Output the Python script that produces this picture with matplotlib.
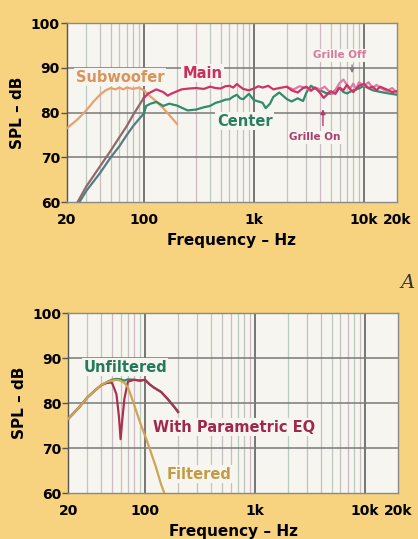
import numpy as np
import matplotlib
matplotlib.use('Agg')
import matplotlib.pyplot as plt
from matplotlib.ticker import FixedLocator, NullFormatter

# Datos de la gráfica superior (respuesta de los altavoces)
freq_sub = [20, 25, 30, 35, 40, 45, 50, 55, 60, 65, 70, 80, 90, 100, 110, 130, 150, 170, 200]
spl_sub = [76.5, 78.5, 80.5, 82.5, 84.0, 85.0, 85.5, 85.2, 85.6, 85.2, 85.6, 85.3, 85.6, 85.0,
           84.0, 82.5, 81.0, 79.5, 77.5]

freq_main = [25, 30, 40, 50, 60, 70, 80, 90, 100, 110, 130, 150, 165, 180, 220, 260, 300, 350,
             400, 450, 500, 550, 600, 650, 700, 750, 800, 900, 1000, 1100, 1200, 1350, 1500,
             1700, 2000, 2200, 2500, 2800, 3000, 3300, 3600, 4000, 4300, 4600, 5000, 5500,
             6000, 6500, 7000, 7500, 8000, 9000, 10000, 11000, 12000, 13000, 14000, 16000,
             18000, 20000]
spl_main = [60.0, 63.5, 68.0, 71.5, 74.5, 77.0, 79.5, 81.5, 83.3, 84.3, 85.2, 84.6, 83.8, 84.3,
            85.2, 85.4, 85.5, 85.3, 85.8, 85.5, 85.4, 85.9, 86.0, 85.6, 86.4, 85.8, 85.3, 85.0,
            85.4, 85.9, 85.6, 86.0, 85.2, 85.5, 85.8, 85.0, 84.5, 85.5, 85.8, 85.0, 85.6, 84.4,
            83.3, 84.0, 84.8, 84.2, 85.6, 85.0, 86.2, 85.2, 84.6, 86.0, 86.4, 85.5, 85.8, 85.0,
            85.8, 85.2, 84.6, 84.8]

freq_off = [2000, 2300, 2600, 3000, 3300, 3600, 4000, 4400, 4800, 5200, 5600, 6000, 6500,
            7000, 7500, 8000, 8500, 9000, 10000, 11000, 12000, 13000, 14000, 16000, 18000, 20000]
spl_off = [85.7, 85.2, 85.9, 85.5, 84.8, 85.6, 85.2, 85.8, 84.8, 84.2, 85.4, 86.6, 87.4,
           86.2, 85.4, 86.5, 85.2, 86.8, 86.0, 86.8, 85.5, 86.2, 85.6, 84.8, 85.5, 84.5]

freq_center = [26, 30, 40, 50, 60, 70, 80, 90, 100, 105, 115, 130, 150, 170, 200, 250, 300,
               350, 400, 450, 500, 550, 600, 650, 700, 750, 800, 900, 1000, 1100, 1200, 1280,
               1400, 1500, 1700, 2000, 2200, 2500, 2800, 3000, 3300, 3600, 4000, 4500, 5000,
               5500, 6000, 6500, 7000, 8000, 9000, 10000, 12000, 15000, 20000]
spl_center = [60.0, 62.5, 66.5, 70.0, 72.5, 75.0, 77.0, 78.5, 79.8, 81.5, 82.0, 82.4, 81.5,
              82.0, 81.6, 80.5, 80.7, 81.2, 81.5, 82.2, 82.5, 82.9, 83.0, 83.6, 84.0, 83.2,
              83.0, 84.2, 82.8, 82.5, 82.2, 81.0, 82.0, 83.5, 84.5, 83.0, 82.5, 83.2, 82.6,
              84.5, 86.0, 85.4, 85.0, 84.4, 84.2, 85.0, 85.5, 84.6, 84.3, 85.0, 85.4, 86.0,
              85.0, 84.5, 84.0]

# Datos de la gráfica inferior (subwoofer con filtros)
freq_unf = [20, 25, 30, 35, 40, 45, 50, 55, 60, 65, 70, 80, 90, 100, 110, 120, 140, 160, 180, 200]
spl_unf = [76.5, 79.0, 81.3, 82.8, 84.0, 84.7, 85.2, 85.4, 85.3, 85.0, 85.3, 85.2, 85.0, 85.2,
           84.2, 83.5, 82.5, 81.0, 79.5, 78.2]

freq_eq = [20, 25, 30, 35, 40, 45, 50, 55, 58, 60, 62, 65, 70, 80, 90, 100, 110, 120, 140,
           160, 180, 200]
spl_eq = [76.5, 79.0, 81.3, 82.8, 84.0, 84.5, 84.6, 82.0, 77.0, 72.0, 76.0, 81.0, 84.8, 85.2,
          85.0, 85.2, 84.2, 83.5, 82.5, 81.0, 79.5, 78.0]

freq_filt = [20, 25, 30, 35, 40, 45, 50, 55, 60, 65, 70, 75, 80, 90, 100, 110, 125, 140, 150]
spl_filt = [76.5, 79.0, 81.3, 82.8, 84.0, 84.7, 85.0, 85.2, 85.0, 84.5, 83.5, 81.5, 79.5,
            75.8, 72.8, 70.0, 66.0, 62.0, 60.0]

x_ticks = [20, 100, 1000, 10000, 20000]
x_labels = ['20', '100', '1k', '10k', '20k']
y_ticks = [60, 70, 80, 90, 100]

BG = '#F7D27F'
FACE = '#F7F5EF'


# Función para dar formato a cada eje (rejilla, ticks, etiquetas)
def style_axis(ax):
    ax.set_facecolor(FACE)
    ax.set_xscale('log')
    ax.set_xlim(20, 20000)
    ax.set_ylim(60, 100)

    # rejilla secundaria (líneas verticales claras)
    minors = [m * d for d in (10, 100, 1000) for m in range(2, 10)]
    minor_colors = ['#cdb9c4', '#b9cbbf', '#c4c0c0']
    for i, f in enumerate(minors):
        if f > 20:
            ax.axvline(f, color=minor_colors[i % 3], lw=0.9, zorder=1)
    for f in (100, 1000, 10000):
        ax.axvline(f, color='#6b6b6b', lw=1.3, zorder=1)
    for y in (70, 80, 90):
        ax.axhline(y, color='#7a7a7a', lw=1.1, zorder=1)

    ax.xaxis.set_minor_locator(FixedLocator([]))
    ax.xaxis.set_minor_formatter(NullFormatter())
    ax.set_xticks(x_ticks)
    ax.set_xticklabels(x_labels, fontsize=10, fontweight='bold')
    ax.set_yticks(y_ticks)
    ax.set_yticklabels([str(v) for v in y_ticks], fontsize=10, fontweight='bold')
    ax.tick_params(axis='x', length=0, pad=8)
    ax.tick_params(axis='y', length=4, width=1, direction='out', color='#555555', pad=1)

    for s in ax.spines.values():
        s.set_color('#8a8a8a')
        s.set_linewidth(1.0)
    ax.spines['left'].set_color('#555555')

    ax.set_ylabel('SPL – dB', fontsize=11, fontweight='bold', labelpad=4)
    ax.set_xlabel('Frequency – Hz', fontsize=11, fontweight='bold', labelpad=4)


# Función para dibujar una curva con otro color en la zona de graves
def plot_two_tone(ax, f, spl, low_color, color, split=100, lw=1.6, z=3):
    f = np.asarray(f, dtype=float)
    spl = np.asarray(spl, dtype=float)
    low = f <= split
    ax.plot(f[low], spl[low], color=low_color, lw=lw, zorder=z)
    ax.plot(f[f >= f[low][-1]], spl[f >= f[low][-1]], color=color, lw=lw, zorder=z)


fig = plt.figure(figsize=(4.18, 5.39), dpi=100, facecolor=BG)
ax1 = fig.add_axes([0.160, 0.625, 0.790, 0.332])
ax2 = fig.add_axes([0.163, 0.085, 0.789, 0.334])
style_axis(ax1)
style_axis(ax2)

# Gráfica superior
box = dict(facecolor=FACE, edgecolor='none', pad=1)
ax1.plot(freq_sub, spl_sub, color='#E9A06E', lw=1.6, zorder=3)
plot_two_tone(ax1, freq_center, spl_center, '#557C80', '#2F8C6C')
ax1.plot(freq_off, spl_off, color='#E27AA8', lw=1.6, zorder=3)
plot_two_tone(ax1, freq_main, spl_main, '#8E6A6C', '#CC3366', z=4)

ax1.text(60.6, 87.9, 'Subwoofer', color='#D9935C', fontsize=10.5, fontweight='bold',
         ha='center', va='center', bbox=box, zorder=5)
ax1.text(344, 88.8, 'Main', color='#C7305F', fontsize=10.5, fontweight='bold',
         ha='center', va='center', bbox=box, zorder=5)
ax1.text(823, 78.1, 'Center', color='#2A7F62', fontsize=10.5, fontweight='bold',
         ha='center', va='center', bbox=box, zorder=5)
ax1.text(6054, 92.8, 'Grille Off', color='#D77AA0', fontsize=7.5, fontweight='bold',
         ha='center', va='center', bbox=box, zorder=5)
ax1.text(3580, 74.5, 'Grille On', color='#A8406E', fontsize=7.5, fontweight='bold',
         ha='center', va='center', bbox=box, zorder=5)
ax1.annotate('', xy=(7800, 88.2), xytext=(7800, 91.3),
             arrowprops=dict(arrowstyle='-|>', color='#8a7a86', lw=1.0, mutation_scale=7), zorder=5)
ax1.annotate('', xy=(4240, 81.4), xytext=(4240, 76.5),
             arrowprops=dict(arrowstyle='-|>', color='#B03A66', lw=1.0, mutation_scale=7), zorder=5)

# Gráfica inferior
ax2.plot(freq_unf, spl_unf, color='#2F8C6C', lw=1.6, zorder=3)
ax2.plot(freq_eq, spl_eq, color='#A8324F', lw=1.6, zorder=4)
ax2.plot(freq_filt, spl_filt, color='#CFA452', lw=1.6, zorder=4)

ax2.text(66, 88.0, 'Unfiltered', color='#237A5C', fontsize=10.5, fontweight='bold',
         ha='center', va='center', bbox=box, zorder=5)
ax2.text(644, 74.7, 'With Parametric EQ', color='#A0284E', fontsize=10.5, fontweight='bold',
         ha='center', va='center', bbox=box, zorder=5)
ax2.text(311, 64.2, 'Filtered', color='#C39A45', fontsize=10.5, fontweight='bold',
         ha='center', va='center', bbox=box, zorder=5)

# letra suelta de la página original
fig.text(0.993, 0.475, 'A', fontsize=14, style='italic', family='DejaVu Serif',
         color='#333333', ha='right', va='center')

fig.savefig('out.png', dpi=100, facecolor=BG)
